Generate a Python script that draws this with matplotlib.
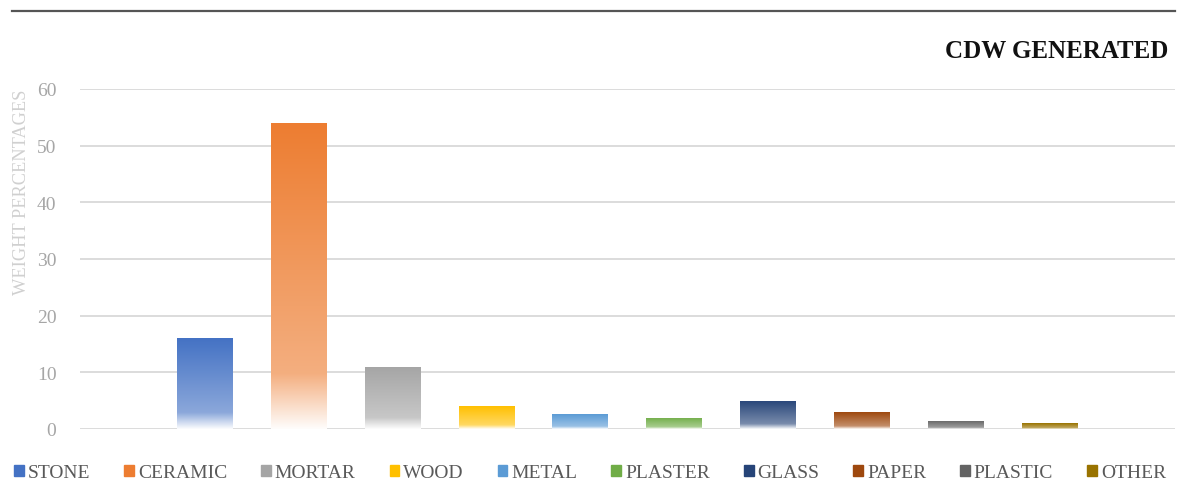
import matplotlib
matplotlib.use('Agg')
import matplotlib.pyplot as plt
import matplotlib.patches as mpatches
from matplotlib.colors import to_rgb
import numpy as np

plt.rcParams['font.family'] = ['Liberation Serif', 'DejaVu Serif']

materials = ['STONE', 'CERAMIC', 'MORTAR', 'WOOD', 'METAL',
             'PLASTER', 'GLASS', 'PAPER', 'PLASTIC', 'OTHER']
weights = [16, 54, 11, 4, 2.6, 2, 5, 3, 1.5, 1]
colors = ['#4472C4', '#ED7D31', '#A5A5A5', '#FFC000', '#5B9BD5',
          '#70AD47', '#264478', '#9E480E', '#636363', '#997300']
yticks = [0, 10, 20, 30, 40, 50, 60]


def gradient_image(color, n=200):
    # solid at the top, a bit lighter further down, then fading to white
    t = np.linspace(0, 1, n)
    w = np.where(t < 0.82, 0.38 * t / 0.82,
                 0.38 + 0.6 * (t - 0.82) / 0.18)
    c = np.array(to_rgb(color))
    rgb = c[None, :] * (1 - w[:, None]) + w[:, None]
    return np.repeat(rgb[:, None, :], 2, axis=1)


fig = plt.figure(figsize=(11.78, 4.81), dpi=100)
ax = fig.add_axes([80 / 1178, 51 / 481, 1095 / 1178, 340 / 481])

x = np.arange(len(materials))
bars = ax.bar(x, weights, width=0.59, color='none', edgecolor='none', zorder=3)
for b, col in zip(bars, colors):
    x0, y0 = b.get_x(), b.get_y()
    im = ax.imshow(gradient_image(col), extent=[x0, x0 + b.get_width(), y0, y0 + b.get_height()],
                   aspect='auto', zorder=3, interpolation='bilinear')
    im.set_clip_path(b)

ax.set_xlim(-1.33, 10.34)
ax.set_ylim(0, 60)
ax.set_yticks(yticks)
ax.set_xticks([])
ax.grid(axis='y', color='#D9D9D9', lw=1.3, zorder=0)
ax.set_axisbelow(True)
for s in ax.spines.values():
    s.set_visible(False)
ax.tick_params(axis='y', length=0, pad=17, labelsize=14, labelcolor='#A6A6A6')

fig.text(22 / 1178, 1 - 192 / 481, 'WEIGHT PERCENTAGES', rotation=90,
         ha='center', va='center', fontsize=13.2, color='#D0D0D0')
fig.text(1168 / 1178, 1 - 52 / 481, 'CDW GENERATED', ha='right', va='center',
         fontsize=18, fontweight='bold', color='#111111')
fig.add_artist(plt.Line2D([12 / 1178, 1175 / 1178], [1 - 12 / 481] * 2,
                          color='#555555', lw=1.6))

handles = [mpatches.Patch(color=c, label=m) for m, c in zip(materials, colors)]
fig.legend(handles=handles, loc='center', bbox_to_anchor=(590 / 1178, 1 - 474 / 481),
           ncol=10, frameon=False, fontsize=14, handlelength=0.5, handleheight=0.55,
           handletextpad=0.2, columnspacing=1.75, labelcolor='#595959',
           borderpad=0, borderaxespad=0)

fig.savefig('out.png', dpi=100)
